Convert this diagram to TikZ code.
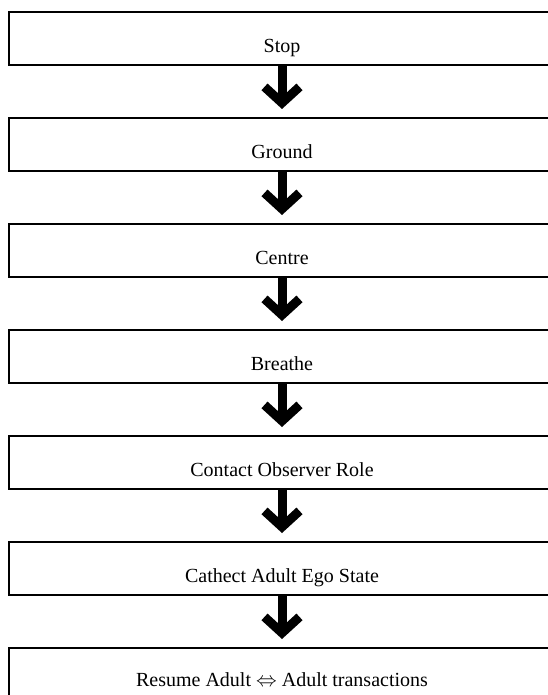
\documentclass[tikz,border=0pt]{standalone}
\usepackage{fontspec}
\setmainfont{Liberation Serif}
\usepackage{tikz}
\usetikzlibrary{matrix,arrows.meta}
\tikzset{
  stepbox/.style={draw, line width=2pt, minimum width=545pt, minimum height=53pt,
    inner sep=0pt, text height=29pt, text depth=2pt},
  blockarrow/.style={-{Straight Barb[length=16pt,width=35pt]}, line width=9pt, shorten >=8pt}
}

\begin{document}
\begin{tikzpicture}[x=1pt,y=1pt]
	\useasboundingbox (0,0) rectangle (547,-695);
	\matrix (f) [matrix of nodes, row sep=51pt, inner sep=0pt,
		nodes={stepbox, font=\fontsize{20pt}{24pt}\selectfont}] at (282,-356.5)
	{
		Stop \\
		Ground \\
		Centre \\
		Breathe \\
		Contact Observer Role \\
		Cathect Adult Ego State \\
		|[text height=25pt]| Resume Adult $\Leftrightarrow$ Adult transactions \\
	};
	\path[blockarrow]
	(f-1-1) edge (f-2-1)
	(f-2-1) edge (f-3-1)
	(f-3-1) edge (f-4-1)
	(f-4-1) edge (f-5-1)
	(f-5-1) edge (f-6-1)
	(f-6-1) edge (f-7-1);
\end{tikzpicture}
\end{document}
